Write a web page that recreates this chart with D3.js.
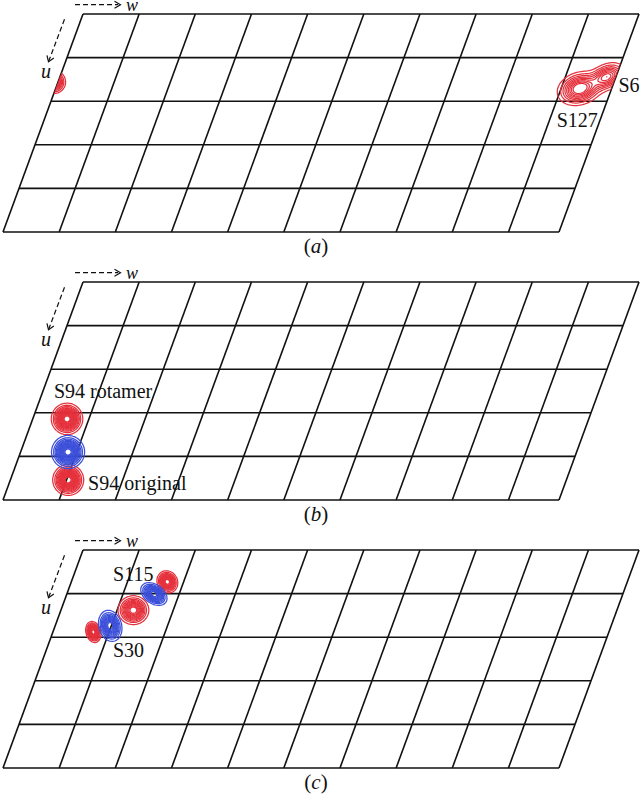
<!DOCTYPE html>
<html>
<head>
<meta charset="utf-8">
<script src="https://cdn.jsdelivr.net/npm/d3@7/dist/d3.min.js"></script>
<style>
html,body{margin:0;padding:0;background:#fff;}
svg{display:block;}
text{font-family:"Liberation Serif","Times New Roman","DejaVu Serif",serif;fill:#111;}
</style>
</head>
<body>
<svg id="chart" width="640" height="797"></svg>
<script>
// ---------- data ----------
const panelNames = ["a", "b", "c"];
const wGrid = [0, 1, 2, 3, 4, 5, 6, 7, 8, 9, 9.9];   // slanted grid lines (w)
const uGrid = [0, 1, 2, 3, 4, 5];                     // horizontal grid lines (u)

// difference-density peaks (grid units)
const peakPanel = [0, 0, 0, 1, 1, 1, 2, 2, 2, 2, 2];
const peakSign  = [1, 1, 1, 1, -1, 1, 1, -1, 1, -1, 1];
const peakW     = [-0.07, 9.33, 9.74, 0.61, 0.845, 1.03, 0.72, 0.98, 1.29, 1.55, 1.71];
const peakU     = [1.56, 1.71, 1.44, 3.14, 3.90, 4.54, 1.88, 1.74, 1.38, 1.01, 0.73];
const peakAmp   = [1, 1, 0.8, 1, 1, 1, 1, 1, 1, 1, 1];
const peakS1    = [0.095, 0.19, 0.17, 0.118, 0.124, 0.116, 0.085, 0.125, 0.122, 0.115, 0.09];
const peakS2    = [0.095, 0.135, 0.11, 0.118, 0.124, 0.116, 0.058, 0.09, 0.114, 0.075, 0.08];
const peakAngle = [0, -18, -25, 0, 0, 0, 75, 75, 0, 35, 60];

const contourLevels = [
  [0.1, 0.19, 0.28, 0.37, 0.46, 0.55, 0.64, 0.73, 0.82],
  [0.06, 0.12, 0.18, 0.24, 0.3, 0.36, 0.42, 0.48, 0.54, 0.6, 0.66, 0.72, 0.78, 0.84, 0.9],
  [0.08, 0.16, 0.24, 0.32, 0.4, 0.48, 0.56, 0.64, 0.72, 0.8, 0.88]
];

const labelText  = ["S6", "S127", "S94 rotamer", "S94 original", "S115", "S30"];
const labelPanel = [0, 0, 1, 1, 2, 2];
const labelW     = [10.04, 9.17, 0.24, 1.45, 0.736, 1.23];
const labelU     = [1.78, 2.585, 2.66, 4.77, 0.704, 2.447];

// ---------- layout ----------
const panelTop = [14, 282, 550];
const left0 = 83;
const wScale = d3.scaleLinear().domain([0, 9.9]).range([0, 556]);
const uScale = d3.scaleLinear().domain([0, 5]).range([0, 218]);
const shear  = d3.scaleLinear().domain([0, 5]).range([0, -80]);
const colorPos = "#e5303b", colorNeg = "#3b4fd9";
const serif = '"Liberation Serif","Times New Roman","DejaVu Serif",serif';

function pt(p, w, u) { return [left0 + wScale(w) + shear(u), panelTop[p] + uScale(u)]; }

const svg = d3.select("#chart");
const defs = svg.append("defs");

panelNames.forEach((name, p) => {
  const g = svg.append("g");
  const corners = [pt(p, 0, 0), pt(p, 9.9, 0), pt(p, 9.9, 5), pt(p, 0, 5)];
  defs.append("clipPath").attr("id", "clip" + p)
    .append("polygon").attr("points", corners.map(c => c.join(",")).join(" "));

  // grid
  const line = d3.line();
  uGrid.forEach(u => {
    g.append("path").attr("d", line([pt(p, 0, u), pt(p, 9.9, u)]))
      .attr("stroke", "#111").attr("stroke-width", 1.6).attr("fill", "none");
  });
  wGrid.forEach(w => {
    g.append("path").attr("d", line([pt(p, w, 0), pt(p, w, 5)]))
      .attr("stroke", "#111").attr("stroke-width", 1.6).attr("fill", "none");
  });

  // contours
  const cell = 1.5;
  const gx0 = 0, gy0 = panelTop[p] - 10;
  const nx = Math.ceil(640 / cell), ny = Math.ceil(240 / cell);
  const unit = wScale(1) - wScale(0);
  [1, -1].forEach(sign => {
    const idx = d3.range(peakW.length).filter(i => peakPanel[i] === p && peakSign[i] === sign);
    if (!idx.length) return;
    const vals = new Float64Array(nx * ny);
    idx.forEach(i => {
      const [cx, cy] = pt(p, peakW[i], peakU[i]);
      const a = peakAngle[i] * Math.PI / 180, ca = Math.cos(a), sa = Math.sin(a);
      const s1 = peakS1[i] * unit, s2 = peakS2[i] * unit;
      for (let j = 0; j < ny; j++) {
        const y = gy0 + (j + 0.5) * cell - cy;
        if (Math.abs(y) > 60) continue;
        for (let k = 0; k < nx; k++) {
          const x = gx0 + (k + 0.5) * cell - cx;
          if (Math.abs(x) > 60) continue;
          const d1 = (x * ca + y * sa) / s1, d2 = (-x * sa + y * ca) / s2;
          vals[j * nx + k] += peakAmp[i] * Math.exp(-0.5 * (d1 * d1 + d2 * d2));
        }
      }
    });
    const contours = d3.contours().size([nx, ny]).thresholds(contourLevels[p])(vals);
    const path = d3.geoPath(d3.geoIdentity().scale(cell).translate([gx0, gy0]));
    g.append("g").attr("clip-path", `url(#clip${p})`)
      .selectAll("path").data(contours).join("path")
      .attr("d", path)
      .attr("fill", "none")
      .attr("stroke", sign > 0 ? colorPos : colorNeg)
      .attr("stroke-width", 1.25)
      .attr("stroke-linejoin", "round");
  });

  // axis indicators
  const t = panelTop[p];
  g.append("path").attr("d", line([[75, t - 9.3], [118, t - 9.3]]))
    .attr("stroke", "#111").attr("stroke-width", 1.2).attr("stroke-dasharray", "5,3").attr("fill", "none");
  g.append("path").attr("d", line([[114.5, t - 12.8], [120.5, t - 9.3], [114.5, t - 5.8]]))
    .attr("stroke", "#111").attr("stroke-width", 1.2).attr("fill", "none");
  g.append("text").attr("x", 126).attr("y", t - 3.2).attr("font-size", 18)
    .attr("font-family", serif).attr("font-style", "italic").text("w");

  const ua = [64.5, t + 5.3], ub = [48.5, t + 47.7];
  g.append("path").attr("d", line([ua, ub]))
    .attr("stroke", "#111").attr("stroke-width", 1.2).attr("stroke-dasharray", "5,3").attr("fill", "none");
  const dx = ub[0] - ua[0], dy = ub[1] - ua[1], L = Math.hypot(dx, dy);
  const ux = dx / L, uy = dy / L, ah = 6.5, ang = 0.6;
  const arm = s => [ub[0] - ah * (ux * Math.cos(ang) - s * uy * Math.sin(ang)),
                    ub[1] - ah * (uy * Math.cos(ang) + s * ux * Math.sin(ang))];
  g.append("path").attr("d", line([arm(1), ub, arm(-1)]))
    .attr("stroke", "#111").attr("stroke-width", 1.2).attr("fill", "none");
  g.append("text").attr("x", 41).attr("y", t + 64).attr("font-size", 20)
    .attr("font-family", serif).attr("font-style", "italic").text("u");

  // panel caption
  const cap = g.append("text").attr("x", 316).attr("y", t + 239)
    .attr("font-size", 21).attr("font-family", serif).attr("text-anchor", "middle");
  cap.append("tspan").text("(");
  cap.append("tspan").attr("font-style", "italic").text(name);
  cap.append("tspan").text(")");
});

// peak labels
labelText.forEach((txt, i) => {
  const [x, y] = pt(labelPanel[i], labelW[i], labelU[i]);
  svg.append("text").attr("x", x).attr("y", y).attr("font-size", 20)
    .attr("font-family", serif).text(txt);
});
</script>
</body>
</html>
